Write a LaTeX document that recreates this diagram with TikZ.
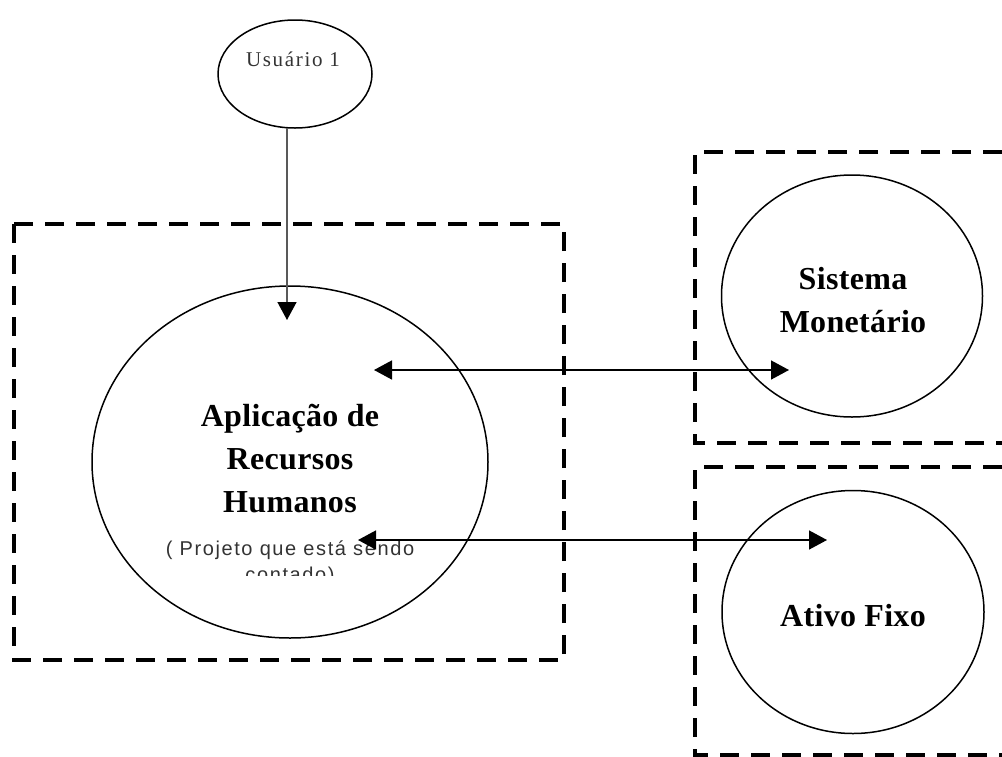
\documentclass[tikz,border=0pt]{standalone}
\usepackage{fontspec}
\setmainfont{Liberation Serif}
\newfontfamily\subfont[LetterSpace=8]{Liberation Sans}
\newfontfamily\userfont[LetterSpace=8]{Liberation Serif}
\newfontfamily\boldfont[LetterSpace=1]{Liberation Serif Bold}
\usetikzlibrary{arrows.meta,shapes.geometric}
\tikzset{
  dbox/.style={line width=4pt, dash pattern=on 19pt off 12pt},
  oval/.style={draw, ellipse, line width=1.5pt, inner sep=0pt},
  conn/.style={line width=1.5pt, -{Triangle[length=18pt,width=19pt,color=black]}},
  biconn/.style={line width=1.5pt, {Triangle[length=18pt,width=19pt]}-{Triangle[length=18pt,width=19pt]}},
  big/.style={font=\boldfont\fontsize{32}{43}\selectfont, align=center, inner sep=0pt},
  small/.style={font=\subfont\fontsize{20}{23}\selectfont, text=black!80, inner sep=0pt, anchor=base},
}
\begin{document}
\begin{tikzpicture}[x=1pt,y=-1pt]
\useasboundingbox (0,0) rectangle (1002,756);
% dashed boxes
\draw[dbox] (14,224) rectangle (564,660);
\draw[dbox] (1002,152) -- (695,152) -- (695,443) -- (1002,443);
\draw[dbox] (1002,467) -- (695,467) -- (695,755) -- (1002,755);
% ellipses
\node[oval, minimum width=154pt, minimum height=108pt] (user) at (295,74) {};
\node[oval, minimum width=396pt, minimum height=352pt] (rh) at (290,462) {};
\node[oval, minimum width=261pt, minimum height=242pt] (sm) at (852,296) {};
\node[oval, minimum width=262pt, minimum height=243pt] (af) at (853,612) {};
% texts
\node[font=\userfont\fontsize{21}{24}\selectfont, text=black!80, inner sep=0pt, anchor=base] (tuser) at (293,66) {Usuário 1};
\node[big, anchor=base] (trh) at (290,512) {Aplicação de\\Recursos\\Humanos};
\node[small] (tsub) at (290,555) {( Projeto que está sendo};
\begin{scope}
\clip (150,500) rectangle (450,575.5);
\node[small] (tsub2) at (290,581) {contado)};
\end{scope}
\node[big, anchor=base] (tsm) at (853,332) {Sistema\\Monetário};
\node[big, anchor=base] (taf) at (853,626) {Ativo Fixo};
% connectors
\coordinate (ua) at (287,128);
\coordinate (ub) at (287,320);
\coordinate (a1) at (374,370);
\coordinate (b1) at (789,370);
\coordinate (a2) at (358,540);
\coordinate (b2) at (827,540);
\draw[conn, draw=black!65] (ua) -- (ub);
\draw[biconn] (a1) -- (b1);
\draw[biconn] (a2) -- (b2);
\end{tikzpicture}
\end{document}
